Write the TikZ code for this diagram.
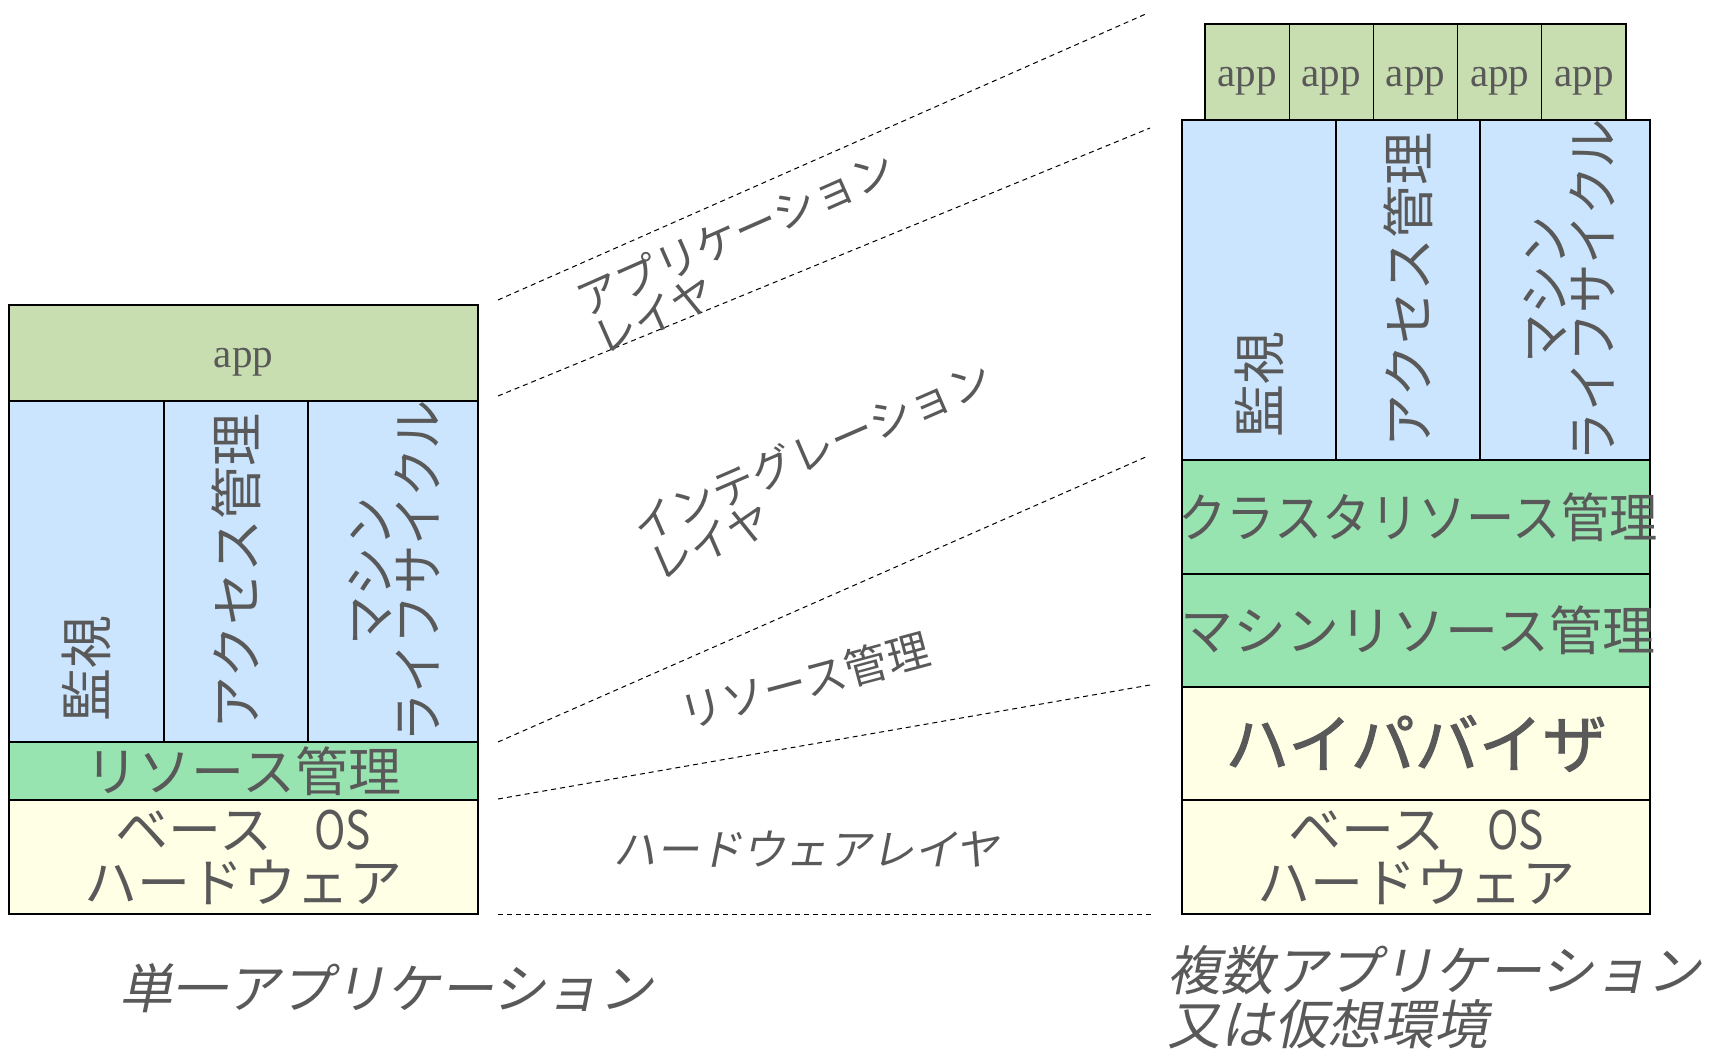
\documentclass[tikz,border=0pt]{standalone}
\usepackage{fontspec}
\setmainfont{Noto Sans CJK JP}
\newfontfamily\appfont{Liberation Serif}
\newfontfamily\slantjp{Noto Sans CJK JP}[FakeSlant=0.2]
\newfontfamily\boldjp{Noto Sans CJK JP}[FakeBold=1.5]
\definecolor{txt}{HTML}{595959}
\definecolor{appg}{HTML}{C9DEB0}
\definecolor{blu}{HTML}{CCE5FF}
\definecolor{grn}{HTML}{98E4B0}
\definecolor{yel}{HTML}{FFFFE6}
\newcommand{\baseos}{ベース\hspace{0.8em}\scalebox{0.8}[1]{OS}}
\begin{document}
\begin{tikzpicture}[x=1pt,y=-1pt,
  box/.style={draw=black, line width=1.3pt, inner sep=0pt, outer sep=0pt, text=txt},
  dashline/.style={draw=black, line width=1pt, dash pattern=on 5pt off 4pt},
  lbl/.style={text=txt, inner sep=0pt, font=\fontsize{53}{48}\selectfont},
  applbl/.style={text=txt, inner sep=0pt, font=\appfont\fontsize{41}{41}\selectfont},
  diag/.style={text=txt, inner sep=0pt, align=left, font=\fontsize{43}{42}\selectfont},
  captxt/.style={text=txt, inner sep=0pt, align=left, font=\slantjp\fontsize{53.5}{54}\selectfont}]
\useasboundingbox (0,0) rectangle (1710,1049);

% ---------- left stack ----------
\node[box, fill=appg, minimum width=469pt, minimum height=96pt] (lapp) at (243.5,353) {};
\node[applbl] (tlapp) at (243.5,362) {app};
\node[box, fill=blu, minimum width=155pt, minimum height=341pt] (lmon) at (86.5,571.5) {};
\node[box, fill=blu, minimum width=144pt, minimum height=341pt] (lacc) at (236,571.5) {};
\node[box, fill=blu, minimum width=170pt, minimum height=341pt] (lmach) at (393,571.5) {};
\node[box, fill=grn, minimum width=469pt, minimum height=58pt, font=\fontsize{53}{48}\selectfont] (lres) at (243.5,771) {リソース管理};
\node[box, fill=yel, minimum width=469pt, minimum height=114pt, align=center, font=\fontsize{53}{53}\selectfont] (lbase) at (243.5,857) {\baseos\\ハードウェア};

\node[lbl, rotate=90, anchor=west] (tlmon) at (86.5,722) {監視};
\node[lbl, rotate=90] (tlacc) at (236,571.5) {アクセス管理};
\node[lbl, rotate=90, align=center] (tlmach) at (394,571.5) {\scalebox{0.93}[1]{マシン}\\\scalebox{0.93}[1]{ライフサイクル}};

% ---------- right stack ----------
\node[box, fill=appg, minimum width=84.2pt, minimum height=96pt] (ra1) at (1247.1,72) {};
\node[box, fill=appg, minimum width=84.2pt, minimum height=96pt] (ra2) at (1331.3,72) {};
\node[box, fill=appg, minimum width=84.2pt, minimum height=96pt] (ra3) at (1415.5,72) {};
\node[box, fill=appg, minimum width=84.2pt, minimum height=96pt] (ra4) at (1499.7,72) {};
\node[box, fill=appg, minimum width=84.2pt, minimum height=96pt] (ra5) at (1583.9,72) {};
\node[applbl] (tra1) at (1247.1,81) {app};
\node[applbl] (tra2) at (1331.3,81) {app};
\node[applbl] (tra3) at (1415.5,81) {app};
\node[applbl] (tra4) at (1499.7,81) {app};
\node[applbl] (tra5) at (1583.9,81) {app};
\node[box, fill=blu, minimum width=154pt, minimum height=340pt] (rmon) at (1259,290) {};
\node[box, fill=blu, minimum width=144pt, minimum height=340pt] (racc) at (1408,290) {};
\node[box, fill=blu, minimum width=170pt, minimum height=340pt] (rmach) at (1565,290) {};
\node[box, fill=grn, minimum width=468pt, minimum height=114pt] (rclus) at (1416,517) {};
\node[text=txt, inner sep=0pt, font=\fontsize{53}{48}\selectfont] (trclus) at (1418,517) {\scalebox{0.91}[1]{クラスタリソース管理}};
\node[box, fill=grn, minimum width=468pt, minimum height=113pt] (rmres) at (1416,630.5) {};
\node[text=txt, inner sep=0pt, font=\fontsize{53}{48}\selectfont] (trmres) at (1418,630.5) {マシンリソース管理};
\node[box, fill=yel, minimum width=468pt, minimum height=113pt, font=\boldjp\fontsize{64}{64}\selectfont] (rhyp) at (1416,743.5) {ハイパバイザ};
\node[box, fill=yel, minimum width=468pt, minimum height=114pt, align=center, font=\fontsize{53}{53}\selectfont] (rbase) at (1416,857) {\baseos\\ハードウェア};

\node[lbl, rotate=90, anchor=west] (trmon) at (1259,438) {監視};
\node[lbl, rotate=90] (tracc) at (1408,290) {アクセス管理};
\node[lbl, rotate=90, align=center] (trmach) at (1569,290) {\scalebox{0.93}[1]{マシン}\\\scalebox{0.93}[1]{ライフサイクル}};

% ---------- dashed guide lines ----------
\coordinate (d1a) at (498,300);  \coordinate (d1b) at (1148,13);
\coordinate (d2a) at (498,396);  \coordinate (d2b) at (1150,128);
\coordinate (d3a) at (498,742);  \coordinate (d3b) at (1148,456);
\coordinate (d4a) at (498,799);  \coordinate (d4b) at (1150,685);
\coordinate (d5a) at (498,914);  \coordinate (d5b) at (1153,914);
\draw[dashline] (d1a) -- (d1b);
\draw[dashline] (d2a) -- (d2b);
\draw[dashline] (d3a) -- (d3b);
\draw[dashline] (d4a) -- (d4b);
\draw[dashline] (d5a) -- (d5b);

% ---------- layer labels ----------
\node[diag, rotate=23.8] (lyapp) at (744,252) {アプリケーション\\レイヤ};
\node[diag, rotate=23.5] (lyint) at (820,470) {インテグレーション\\レイヤ};
\node[diag, rotate=15] (lyres) at (805,681) {リソース管理};
\node[text=txt, inner sep=0pt, font=\slantjp\fontsize{43}{42}\selectfont] (lyhw) at (806,849) {ハードウェアレイヤ};

% ---------- captions ----------
\node[captxt] (capl) at (386,988) {単一アプリケーション};
\node[captxt, anchor=west] (capr) at (1167,997) {複数アプリケーション\\又は仮想環境};
\end{tikzpicture}
\end{document}
